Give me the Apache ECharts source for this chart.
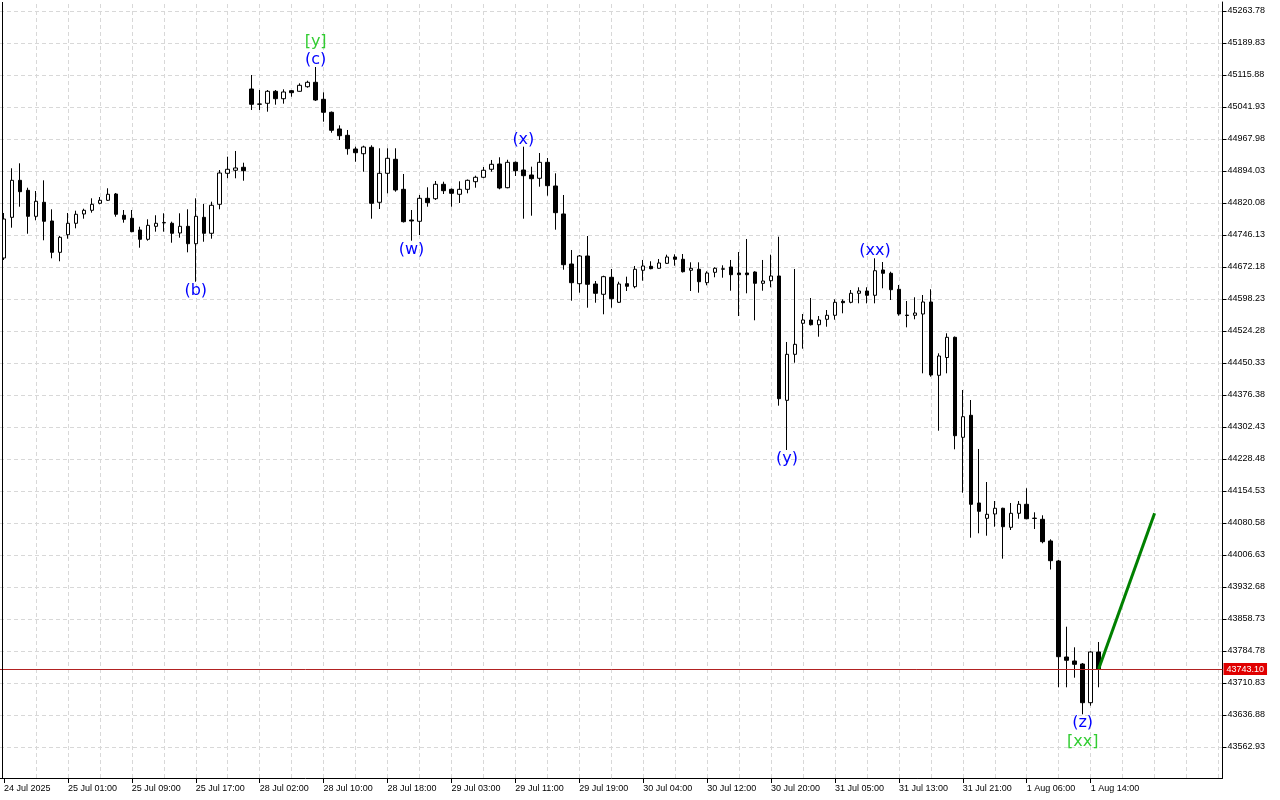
<!DOCTYPE html>
<html><head><meta charset="utf-8">
<script src="https://cdn.jsdelivr.net/npm/echarts@6/dist/echarts.min.js"></script>
<style>html,body{margin:0;padding:0;background:#fff}#c{width:1280px;height:800px}</style>
</head><body><div id="c"></div>
<script>
// trading sessions (day, first hour, last hour) -> hourly bar categories
const sessions = [['24 Jul',16,23],['25 Jul',1,23],['28 Jul',1,23],['29 Jul',1,23],['30 Jul',1,23],['31 Jul',1,23],['1 Aug',1,23],['4 Aug',1,7]];
const categories = [];
sessions.forEach(([d,h0,h1]) => { for (let h = h0; h <= h1; h++) categories.push(d + ' ' + String(h).padStart(2,'0') + ':00'); });

const xTickLabels = ['24 Jul 2025','25 Jul 01:00','25 Jul 09:00','25 Jul 17:00','28 Jul 02:00','28 Jul 10:00','28 Jul 18:00','29 Jul 03:00','29 Jul 11:00','29 Jul 19:00','30 Jul 04:00','30 Jul 12:00','30 Jul 20:00','31 Jul 05:00','31 Jul 13:00','31 Jul 21:00','1 Aug 06:00','1 Aug 14:00'];
const yTicks = [43562.93,43636.88,43710.83,43784.78,43858.73,43932.68,44006.63,44080.58,44154.53,44228.48,44302.43,44376.38,44450.33,44524.28,44598.23,44672.18,44746.13,44820.08,44894.03,44967.98,45041.93,45115.88,45189.83,45263.78];

// [open, close, low, high]
const candles = [
[44693.0,44783.1,44688.4,44797.0],[44787.0,44872.5,44763.0,44900.3],[44872.5,44846.2,44811.5,44911.8],[44849.4,44789.3,44749.1,44855.4],
[44789.3,44824.0,44780.1,44847.8],[44821.7,44777.8,44733.9,44872.5],[44778.5,44706.1,44692.3,44805.5],[44706.1,44740.8,44685.4,44743.8],
[44746.8,44773.2,44737.6,44797.0],[44773.2,44794.0,44761.6,44802.3],[44794.7,44803.2,44783.8,44806.9],[44803.2,44817.1,44797.7,44830.9],
[44819.4,44826.3,44817.1,44833.9],[44826.3,44840.2,44824.7,44854.1],[44840.9,44794.0,44788.4,44843.2],[44791.7,44782.4,44774.6,44803.9],
[44784.7,44753.8,44752.5,44803.9],[44757.7,44736.2,44716.8,44765.3],[44736.2,44768.5,44733.0,44782.4],[44766.2,44773.2,44753.8,44791.7],
[44774.8,44774.2,44753.8,44796.3],[44773.2,44750.1,44728.3,44776.9],[44750.8,44766.2,44739.9,44796.3],[44766.2,44726.0,44706.1,44805.5],
[44726.0,44789.3,44638.2,44830.9],[44787.0,44750.1,44730.6,44817.8],[44750.1,44814.8,44737.6,44823.1],[44817.1,44889.4,44805.5,44896.3],
[44888.7,44898.0,44877.2,44927.1],[44895.7,44901.0,44877.2,44940.3],[44902.6,44894.7,44871.6,44913.2],[45083.5,45048.2,45035.0,45115.9],
[45048.2,45049.0,45035.0,45081.2],[45050.5,45078.2,45031.1,45081.2],[45078.2,45061.1,45047.3,45081.2],[45061.1,45076.6,45049.6,45082.8],
[45079.6,45075.0,45065.7,45081.2],[45078.2,45092.1,45077.5,45096.7],[45088.8,45099.0,45086.5,45102.7],[45099.0,45058.1,45055.8,45134.4],
[45059.7,45029.7,45008.0,45075.9],[45029.7,44988.1,44982.5,45031.5],[44991.1,44975.6,44965.7,44999.6],[44976.5,44945.6,44931.7,44988.8],
[44944.9,44936.3,44915.5,44950.2],[44934.0,44949.5,44892.4,44952.5],[44948.8,44819.4,44783.8,44953.4],[44821.7,44888.7,44806.2,44946.5],
[44888.7,44923.4,44842.5,44946.5],[44921.1,44850.1,44846.2,44946.5],[44851.7,44776.9,44775.0,44887.1],[44780.8,44778.5,44733.0,44803.9],
[44777.8,44830.9,44746.1,44838.6],[44830.9,44820.8,44811.5,44856.4],[44830.0,44863.3,44827.0,44870.9],[44863.3,44848.5,44840.9,44869.3],
[44851.7,44842.5,44811.5,44853.6],[44840.2,44851.7,44820.1,44870.2],[44851.7,44872.5,44842.5,44874.4],[44869.3,44879.5,44855.4,44883.2],
[44879.5,44895.7,44877.2,44903.3],[44898.0,44909.5,44892.4,44919.5],[44910.2,44854.7,44851.7,44925.7],[44855.4,44914.1,44854.1,44920.1],
[44914.1,44894.7,44882.5,44916.0],[44896.3,44883.2,44783.8,44950.2],[44884.8,44876.2,44790.7,44904.0],[44877.2,44914.1,44857.8,44935.6],
[44914.1,44860.1,44837.0,44924.1],[44859.4,44797.7,44758.4,44888.7],[44794.7,44677.5,44665.9,44838.6],[44679.1,44635.9,44594.3,44711.5],
[44633.6,44697.6,44612.8,44699.9],[44697.6,44632.2,44578.1,44743.8],[44632.9,44611.4,44589.7,44639.8],[44609.1,44649.8,44562.9,44652.1],
[44648.4,44598.9,44578.1,44667.6],[44590.6,44632.9,44589.0,44638.2],[44633.6,44627.6,44616.7,44649.8],[44626.7,44666.9,44623.0,44674.5],
[44664.6,44674.5,44640.5,44688.4],[44673.8,44668.3,44666.9,44685.4],[44669.2,44681.4,44668.3,44690.7],[44680.7,44695.3,44679.1,44700.6],
[44695.3,44690.0,44675.2,44701.5],[44690.0,44661.3,44659.5,44702.2],[44664.6,44669.2,44616.7,44683.0],[44666.9,44638.2,44612.8,44683.0],
[44635.9,44658.3,44629.9,44662.3],[44659.9,44669.2,44648.4,44671.5],[44667.9,44667.2,44647.5,44676.1],[44672.2,44654.4,44617.4,44688.4],
[44658.3,44654.4,44558.9,44706.8],[44658.3,44654.4,44611.4,44736.9],[44660.6,44634.5,44549.0,44662.3],[44634.5,44639.8,44617.4,44688.4],
[44640.5,44651.4,44625.3,44700.6],[44651.4,44367.8,44351.7,44742.2],[44364.1,44470.4,44249.3,44498.9],[44470.4,44493.5,44451.0,44667.6],
[44542.1,44549.7,44483.4,44563.6],[44549.7,44538.8,44537.0,44600.5],[44538.8,44549.7,44511.1,44558.9],[44551.3,44560.6,44534.2,44572.8],
[44560.6,44590.6,44550.4,44597.5],[44592.9,44589.7,44565.2,44597.5],[44590.6,44611.4,44588.3,44619.0],[44611.4,44616.7,44588.3,44625.3],
[44616.7,44606.8,44588.3,44625.3],[44606.8,44663.6,44588.3,44692.3],[44665.3,44657.6,44623.0,44683.7],[44657.6,44619.7,44595.9,44661.3],
[44620.7,44563.6,44559.6,44630.6],[44561.0,44560.2,44532.8,44593.6],[44560.6,44565.9,44551.3,44602.2],[44563.6,44591.3,44426.5,44607.5],
[44591.3,44422.6,44418.7,44620.7],[44421.9,44466.5,44293.9,44472.7],[44463.0,44509.7,44426.5,44519.0],[44509.7,44282.3,44250.9,44511.6],
[44278.6,44326.2,44150.6,44387.9],[44329.5,44123.8,44046.6,44364.8],[44126.8,44107.6,44056.8,44251.6],[44091.4,44100.7,44051.2,44175.3],
[44101.4,44114.6,44072.0,44131.4],[44114.6,44072.0,43998.1,44115.9],[44070.6,44103.0,44064.4,44126.8],[44103.0,44123.8,44090.5,44131.4],
[44123.8,44090.5,44089.1,44160.8],[44091.8,44091.1,44066.7,44105.3],[44089.1,44037.4,44033.7,44098.4],[44039.0,43993.5,43973.1,44042.9],
[43992.8,43771.6,43700.9,43995.1],[43770.9,43763.3,43700.9,43840.9],[43761.7,43754.0,43723.1,43793.3],[43754.7,43665.3,43638.5,43757.0],
[43665.3,43782.5,43658.4,43784.1],[43782.5,43743.1,43700.9,43805.6]
];

const currentPrice = 43743.10;
const forecastPath = [[137, 43743.10], [144, 44103.0]];

const waveLabels = [
  {index:39, text:'(c)', kind:'wave', side:'above', row:0},
  {index:39, text:'[y]', kind:'major', side:'above', row:1},
  {index:24, text:'(b)', kind:'wave', side:'below', row:0},
  {index:51, text:'(w)', kind:'wave', side:'below', row:0},
  {index:65, text:'(x)', kind:'wave', side:'above', row:0},
  {index:98, text:'(y)', kind:'wave', side:'below', row:0},
  {index:109, text:'(xx)', kind:'wave', side:'above', row:0},
  {index:135, text:'(z)', kind:'wave', side:'below', row:0},
  {index:135, text:'[xx]', kind:'major', side:'below', row:1}
];

const LBL_COLORS = {wave:'#0000ff', major:'#32cd32'};
const AXIS_FONT = {fontFamily:'Liberation Sans, Arial, sans-serif', fontSize:9, color:'#000'};
const labelTickShown = (i) => i % 8 === 0 && i / 8 < xTickLabels.length;

const vGrid = [];
for (let i = 4; i < categories.length; i += 4) vGrid.push({xAxis: i});

const chart = echarts.init(document.getElementById('c'), null, {renderer:'canvas'});
chart.setOption({
  animation: false,
  backgroundColor: '#ffffff',
  grid: {left: -1.5, right: 57.5, top: 2, bottom: 22, containLabel: false},
  xAxis: {
    type: 'category', data: categories, boundaryGap: true,
    axisLine: {show: true, lineStyle: {color: '#000', width: 1}},
    axisTick: {show: true, alignWithLabel: true, interval: labelTickShown, length: 5, lineStyle: {color: '#000'}},
    axisLabel: Object.assign({interval: labelTickShown, align: 'left', margin: 6,
      formatter: (v, i) => xTickLabels[i / 8] || ''}, AXIS_FONT),
    splitLine: {show: false}
  },
  yAxis: {
    type: 'value', position: 'right', min: 43491.29, max: 45284.58, scale: true,
    axisLine: {show: true, lineStyle: {color: '#000', width: 1}},
    axisTick: {show: true, customValues: yTicks, length: 4, lineStyle: {color: '#000'}},
    axisLabel: Object.assign({customValues: yTicks, margin: 5, formatter: v => v.toFixed(2)}, AXIS_FONT),
    splitLine: {show: false}
  },
  series: [
    {
      type: 'candlestick', data: candles, barWidth: 4, z: 2, clip: true,
      itemStyle: {color: '#ffffff', color0: '#000000', borderColor: '#000000', borderColor0: '#000000', borderWidth: 1},
      markLine: {
        silent: true, symbol: 'none', z: 5,
        data: [{yAxis: currentPrice, lineStyle: {color: '#b22222', type: 'solid', width: 1},
          label: {show: true, position: 'end', distance: 1, formatter: currentPrice.toFixed(2),
            backgroundColor: '#e00000', color: '#fff', padding: [2, 3, 1, 3],
            fontFamily: 'Liberation Sans, Arial, sans-serif', fontSize: 9}}]
      },
      markPoint: {
        silent: true, symbol: 'rect', symbolSize: 0, z: 6,
        data: waveLabels.map(w => {
          const c = candles[w.index];
          const v = w.side === 'above' ? c[3] : c[2];
          const dy = w.side === 'above' ? -(7 + 18 * w.row) : (9 + 19 * w.row);
          return {coord: [w.index, v], label: {show: true, position: 'inside', formatter: w.text, offset: [0, dy],
            color: LBL_COLORS[w.kind], fontFamily: 'DejaVu Sans, sans-serif', fontSize: 16}};
        })
      }
    },
    {
      type: 'line', data: forecastPath, z: 4, symbol: 'none', silent: true,
      lineStyle: {color: '#008000', width: 3},
      markLine: {
        silent: true, symbol: 'none', z: 1, label: {show: false},
        lineStyle: {color: '#d8d8d8', type: [4, 3], width: 1},
        data: [...yTicks.map(v => ({yAxis: v})), ...vGrid]
      }
    }
  ],
  graphic: [
    {type: 'line', z: 100, shape: {x1: 2.5, y1: 2, x2: 2.5, y2: 778}, style: {stroke: '#000', lineWidth: 1}}
  ]
});
</script></body></html>
